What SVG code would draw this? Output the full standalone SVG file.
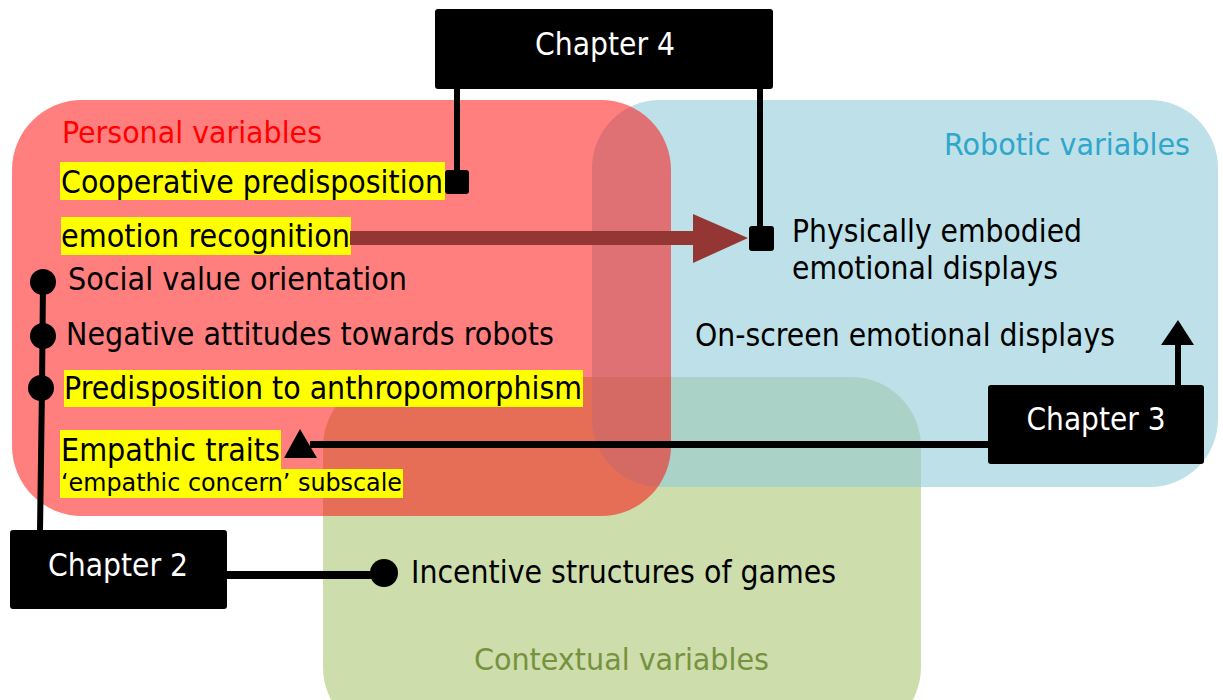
<svg xmlns="http://www.w3.org/2000/svg" width="1223" height="700" viewBox="0 0 1223 700">
  <style>
    text { font-family: "DejaVu Sans Condensed", "DejaVu Sans", sans-serif; font-stretch: condensed; }
    .body { font-size: 32px; fill: #000000; }
    .small { font-size: 25px; fill: #000000; }
    .title { font-size: 30px; }
    .chap { font-size: 32px; fill: #FFFFFF; text-anchor: middle; }
    .hl { fill: #FFFF00; }
    .box { fill: #000000; }
    .line { stroke: #000000; stroke-width: 6; fill: none; }
    .dot { fill: #000000; }
  </style>

  <!-- regions -->
  <g id="contextual">
    <rect x="323" y="377" width="598" height="360" rx="70" fill="#9BBB59" fill-opacity="0.5"/>
    <text class="title" x="474" y="670" fill="#76923C" textLength="295" lengthAdjust="spacingAndGlyphs">Contextual variables</text>
  </g>
  <g id="robotic">
    <rect x="592" y="100" width="626" height="387" rx="68" fill="#93CBD9" fill-opacity="0.6"/>
    <text class="title" x="944" y="155" fill="#2FA6CB" textLength="246" lengthAdjust="spacingAndGlyphs">Robotic variables</text>
  </g>
  <g id="personal">
    <rect x="12" y="100" width="659" height="416" rx="70" fill="#FF0000" fill-opacity="0.5"/>
    <text class="title" x="62" y="143" fill="#FF0000" textLength="260" lengthAdjust="spacingAndGlyphs">Personal variables</text>
  </g>

  <!-- items -->
  <g id="cooperative">
    <rect class="hl" x="60" y="162" width="385" height="38"/>
    <text class="body" x="61" y="193" textLength="382" lengthAdjust="spacingAndGlyphs">Cooperative predisposition</text>
  </g>
  <g id="emotion-recognition">
    <rect class="hl" x="61" y="217" width="290" height="38"/>
    <text class="body" x="61" y="247" textLength="289" lengthAdjust="spacingAndGlyphs">emotion recognition</text>
  </g>
  <g id="svo">
    <text class="body" x="68" y="290" textLength="339" lengthAdjust="spacingAndGlyphs">Social value orientation</text>
  </g>
  <g id="nars">
    <text class="body" x="66" y="345" textLength="488" lengthAdjust="spacingAndGlyphs">Negative attitudes towards robots</text>
  </g>
  <g id="anthropomorphism">
    <rect class="hl" x="64" y="370" width="519" height="37"/>
    <text class="body" x="64" y="399" textLength="518" lengthAdjust="spacingAndGlyphs">Predisposition to anthropomorphism</text>
  </g>
  <g id="empathic">
    <rect class="hl" x="60" y="430" width="221" height="39"/>
    <rect class="hl" x="60" y="469" width="343" height="29"/>
    <text class="body" x="61" y="461" textLength="219" lengthAdjust="spacingAndGlyphs">Empathic traits</text>
    <text class="small" x="61" y="491" textLength="341" lengthAdjust="spacingAndGlyphs">‘empathic concern’ subscale</text>
  </g>
  <g id="physical">
    <text class="body" x="792" y="242" textLength="290" lengthAdjust="spacingAndGlyphs">Physically embodied</text>
    <text class="body" x="792" y="279" textLength="266" lengthAdjust="spacingAndGlyphs">emotional displays</text>
  </g>
  <g id="onscreen">
    <text class="body" x="695" y="346" textLength="420" lengthAdjust="spacingAndGlyphs">On-screen emotional displays</text>
  </g>
  <g id="incentive">
    <text class="body" x="411" y="583" textLength="425" lengthAdjust="spacingAndGlyphs">Incentive structures of games</text>
  </g>

  <!-- connectors -->
  <g id="connectors">
    <!-- emotion recognition -> physically embodied -->
    <rect x="350" y="231" width="345" height="14" fill="#943634"/>
    <polygon points="693,214 748,238 693,263" fill="#943634"/>
    <!-- Chapter 4 links -->
    <line class="line" x1="457" y1="88" x2="457" y2="182"/>
    <rect x="445" y="170" width="24" height="24" rx="3" class="dot"/>
    <line class="line" x1="760" y1="88" x2="760" y2="238"/>
    <rect x="749" y="226" width="25" height="25" rx="3" class="dot"/>
    <!-- Chapter 3 links -->
    <line class="line" x1="1178" y1="386" x2="1178" y2="340"/>
    <polygon points="1178,320 1194,345 1161,345" class="dot"/>
    <line x1="990" y1="444.5" x2="310" y2="444.5" stroke="#000" stroke-width="7"/>
    <polygon points="300,429 317,458 284,458" class="dot"/>
    <!-- Chapter 2 links -->
    <polyline class="line" points="43,282 42,388 40,531"/>
    <circle cx="43" cy="282" r="13" class="dot"/>
    <circle cx="43" cy="336" r="13" class="dot"/>
    <circle cx="41" cy="388" r="13" class="dot"/>
    <line x1="226" y1="575" x2="383" y2="575" stroke="#000" stroke-width="8"/>
    <circle cx="384" cy="573" r="14" class="dot"/>
  </g>

  <!-- chapters -->
  <g id="chapter4">
    <rect class="box" x="435" y="9" width="338" height="80" rx="3"/>
    <text class="chap" x="605" y="55" textLength="140" lengthAdjust="spacingAndGlyphs">Chapter 4</text>
  </g>
  <g id="chapter3">
    <rect class="box" x="988" y="385" width="216" height="79" rx="3"/>
    <text class="chap" x="1096" y="430" textLength="139" lengthAdjust="spacingAndGlyphs">Chapter 3</text>
  </g>
  <g id="chapter2">
    <rect class="box" x="10" y="530" width="217" height="79" rx="3"/>
    <text class="chap" x="118" y="576" textLength="140" lengthAdjust="spacingAndGlyphs">Chapter 2</text>
  </g>
</svg>
